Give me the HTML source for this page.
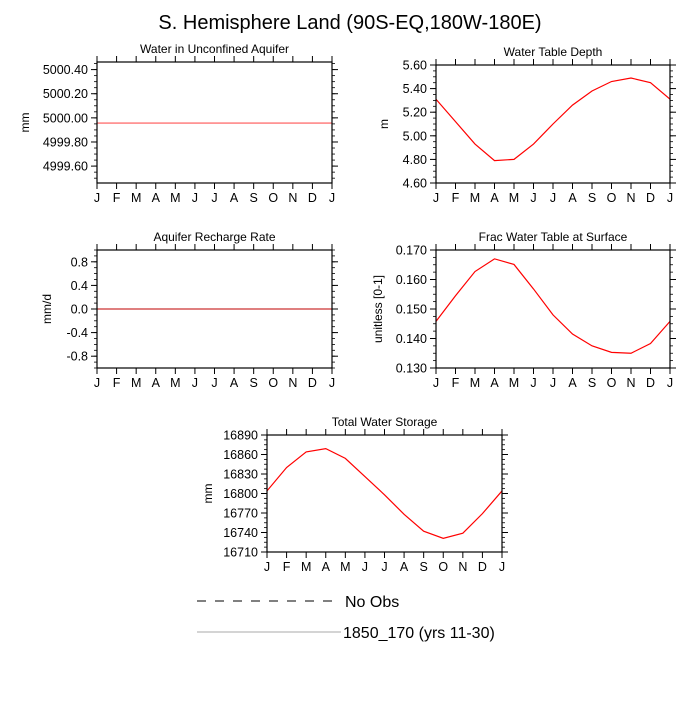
<!DOCTYPE html>
<html><head><meta charset="utf-8"><style>
body{margin:0;background:#fff;}
svg text{font-family:"Liberation Sans",sans-serif;fill:#000;}
</style></head><body>
<svg id="chart" width="700" height="700" xmlns="http://www.w3.org/2000/svg">
<text x="350" y="29" font-size="20" text-anchor="middle">S. Hemisphere Land (90S-EQ,180W-180E)</text>
<g>
<line x1="197" y1="601" x2="332" y2="601" stroke="#000" stroke-width="1" stroke-dasharray="9,9"/>
<text x="345" y="607" font-size="16">No Obs</text>
<line x1="197" y1="632" x2="341" y2="632" stroke="#aaa" stroke-width="1"/>
<text x="343" y="638" font-size="16">1850_170 (yrs 11-30)</text>
</g>
</svg>
<script>
const months=["J","F","M","A","M","J","J","A","S","O","N","D","J"];
const aquiferVals=[4999.957,4999.957,4999.957,4999.957,4999.957,4999.957,4999.957,4999.957,4999.957,4999.957,4999.957,4999.957,4999.957];
const aquiferTicks=["5000.40","5000.20","5000.00","4999.80","4999.60"];
const wtdVals=[5.31,5.12,4.93,4.79,4.80,4.93,5.10,5.26,5.38,5.46,5.49,5.45,5.31];
const wtdTicks=["5.60","5.40","5.20","5.00","4.80","4.60"];
const rechargeVals=[0,0,0,0,0,0,0,0,0,0,0,0,0];
const rechargeTicks=["0.8","0.4","0.0","-0.4","-0.8"];
const fracVals=[0.1458,0.1545,0.1627,0.1670,0.1651,0.1568,0.1480,0.1415,0.1375,0.1353,0.1350,0.1383,0.1458];
const fracTicks=["0.170","0.160","0.150","0.140","0.130"];
const twsVals=[16804,16840,16864,16869,16854,16826,16798,16768,16742,16731,16739,16769,16804];
const twsTicks=["16890","16860","16830","16800","16770","16740","16710"];

const svg=document.getElementById('chart');
const NS="http://www.w3.org/2000/svg";
function mk(tag,attrs,parent){const e=document.createElementNS(NS,tag);for(const k in attrs)e.setAttribute(k,attrs[k]);parent.appendChild(e);return e;}

function panel(id,title,ylab,yoff,x0,x1,y0,y1,ymin,ymax,ticks,vals,stroke){
  const g=mk('g',{},svg);
  
  
  const xs=i=>x0+(x1-x0)*i/12;
  const ys=v=>y1-(y1-y0)*(v-ymin)/(ymax-ymin);
  const t=mk('text',{x:(x0+x1)/2,y:y0-9,'font-size':12,'text-anchor':'middle'},g);t.textContent=title;
  
  
  const yl=mk('text',{x:0,y:0,'font-size':12,'text-anchor':'middle',transform:`translate(${x0-yoff},${(y0+y1)/2}) rotate(-90)`},g);yl.textContent=ylab;
  
  
  months.forEach((m,i)=>{
    const x=xs(i);
    mk('line',{x1:x,x2:x,y1:y1,y2:y1+6,stroke:'#000'},g);
    mk('line',{x1:x,x2:x,y1:y0,y2:y0-6,stroke:'#000'},g);
    const tx=mk('text',{x:x,y:y1+19,'font-size':12.5,'text-anchor':'middle'},g);tx.textContent=m;
    
    
  });
  const tv=ticks.map(Number);
  const step=tv[0]-tv[1];
  for(let v=tv[tv.length-1]-step;v<=tv[0]+step+1e-9;v+=step/4){
    const y=ys(v); if(y<y0-0.5||y>y1+0.5) continue;
    mk('line',{x1:x0,x2:x0-3,y1:y,y2:y,stroke:'#000','stroke-width':0.8},g);
    mk('line',{x1:x1,x2:x1+3,y1:y,y2:y,stroke:'#000','stroke-width':0.8},g);
  }
  ticks.forEach(s=>{
    const y=ys(Number(s));
    mk('line',{x1:x0,x2:x0-6,y1:y,y2:y,stroke:'#000'},g);
    mk('line',{x1:x1,x2:x1+6,y1:y,y2:y,stroke:'#000'},g);
    const tx=mk('text',{x:x0-9,y:y+4.5,'font-size':12.5,'text-anchor':'end'},g);tx.textContent=s;
    
    
  });
  const cp='clip-'+id;
  const cl=mk('clipPath',{id:cp},g);mk('rect',{x:x0,y:y0,width:x1-x0,height:y1-y0},cl);
  const pts=vals.map((v,i)=>xs(i)+','+ys(v)).join(' ');
  const pl=mk('polyline',{points:pts,fill:'none',stroke:stroke,'stroke-width':1.2,'clip-path':`url(#${cp})`},g);
  
  
  const fr=mk('rect',{x:x0,y:y0,width:x1-x0,height:y1-y0,fill:'none',stroke:'#000','stroke-width':1.2},g);
  
  
}
panel('aquifer','Water in Unconfined Aquifer','mm',68,97,332,62,183,4999.46,5000.463,aquiferTicks,aquiferVals,'#f55');
panel('wtd','Water Table Depth','m',48,436,670,65,183,4.60,5.60,wtdTicks,wtdVals,'red');
panel('recharge','Aquifer Recharge Rate','mm/d',46,97,332,250,368,-1,1,rechargeTicks,rechargeVals,'#c33');
panel('frac','Frac Water Table at Surface','unitless [0-1]',54,436,670,250,368,0.130,0.170,fracTicks,fracVals,'red');
panel('tws','Total Water Storage','mm',55,267,502,435,552,16710,16890,twsTicks,twsVals,'red');
</script>
</body></html>
